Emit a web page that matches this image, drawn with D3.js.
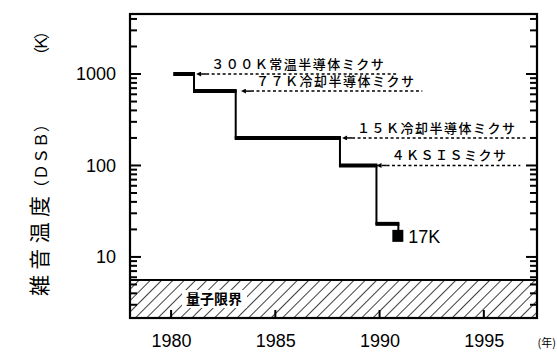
<!DOCTYPE html>
<html lang="ja">
  <head>
    <meta charset="utf-8">
    <title>雑音温度の推移</title>
    <style>
      body { margin: 0; background: #fff; }
      svg text { fill: #000; }
      .num { font-family: "Liberation Sans", Arial, sans-serif; }
      .jp { font-family: "Noto Sans CJK JP", sans-serif; }
    </style>
  </head>
  <body>
    <svg id="chart" width="557" height="352"></svg>
  </body>
  <script src="https://cdn.jsdelivr.net/npm/d3@7/dist/d3.min.js"></script>
  <script type="text/javascript">

    // best receiver noise temperature (DSB), stepped record
    var stepYears = [1980.15, 1981.1, 1983.1, 1988.1, 1989.85, 1990.9];
    var stepTemps = [1000, 650, 200, 100, 23, 17];

    // mixer types : name, temperature, arrow tip year, line end year
    var mixerNames = ['３００Ｋ常温半導体ミクサ', '７７Ｋ冷却半導体ミクサ', '１５Ｋ冷却半導体ミクサ', '４ＫＳＩＳミクサ'];
    var mixerTemps = [1000, 650, 200, 100];
    var mixerStart = [1981.25, 1983.4, 1988.25, 1989.9];
    var mixerEnd = [1990.85, 1992.05, 1997.1, 1996.75];

    var quantumLimit = 5.6;
    var yMajor = [10, 100, 1000];
    var yMinor = [3, 4, 5, 6, 7, 8, 9, 20, 30, 40, 50, 60, 70, 80, 90,
                  200, 300, 400, 500, 600, 700, 800, 900, 2000, 3000, 4000];
    var xTicks = [1980, 1985, 1990, 1995];

    var svg = d3.select('#chart');
    // note: "top" is taken by window.top, so plot edges get a prefix
    var pLeft = 130, pRight = 537, pTop = 14, pBottom = 318;

    var x = d3.scaleLinear().domain([1978.03, 1997.55]).range([pLeft, pRight]);
    var y = d3.scaleLog().domain([2.15, 4530]).range([pBottom, pTop]);

    // hatch pattern for the quantum limit band
    var defs = svg.append('defs');
    defs.append('pattern')
      .attr('id', 'hatch')
      .attr('patternUnits', 'userSpaceOnUse')
      .attr('width', 8).attr('height', 8)
      .attr('patternTransform', 'rotate(45)')
      .append('line')
      .attr('x1', 0).attr('y1', 0).attr('x2', 0).attr('y2', 8)
      .attr('stroke', '#000').attr('stroke-width', 1.5);

    svg.append('rect')
      .attr('x', pLeft).attr('y', y(quantumLimit))
      .attr('width', pRight - pLeft).attr('height', pBottom - y(quantumLimit))
      .attr('fill', 'url(#hatch)');
    svg.append('line')
      .attr('x1', pLeft).attr('x2', pRight)
      .attr('y1', y(quantumLimit)).attr('y2', y(quantumLimit))
      .attr('stroke', '#000').attr('stroke-width', 2);
    svg.append('rect')
      .attr('x', 182).attr('y', 290).attr('width', 65).attr('height', 18)
      .attr('fill', '#fff');
    svg.append('text').attr('class', 'jp')
      .attr('x', 214).attr('y', 304)
      .attr('text-anchor', 'middle')
      .style('font-size', '14px').style('font-weight', 'bold')
      .text('量子限界');

    // tick labels from the axes, tick marks drawn by hand (inward)
    svg.append('g').attr('transform', 'translate(' + pLeft + ',0)')
      .call(d3.axisLeft(y).tickValues(yMajor).tickSize(0).tickPadding(14).tickFormat(d3.format('d')))
      .call(function(g) { g.select('.domain').remove(); })
      .selectAll('text').attr('class', 'num').style('font-size', '18px');
    svg.append('g').attr('transform', 'translate(0,' + pBottom + ')')
      .call(d3.axisBottom(x).tickValues(xTicks).tickSize(0).tickPadding(16).tickFormat(d3.format('d')))
      .call(function(g) { g.select('.domain').remove(); })
      .selectAll('text').attr('class', 'num').style('font-size', '18px');

    var yt = yMajor.map(function(v) { return [v, 11]; })
      .concat(yMinor.map(function(v) { return [v, 7]; }));
    var tg = svg.append('g').attr('stroke', '#000').attr('stroke-width', 2);
    tg.selectAll('.yl').data(yt).enter().append('line')
      .attr('x1', pLeft).attr('x2', function(d) { return pLeft + d[1]; })
      .attr('y1', function(d) { return y(d[0]); })
      .attr('y2', function(d) { return y(d[0]); });
    tg.selectAll('.yr').data(yt).enter().append('line')
      .attr('x1', pRight).attr('x2', function(d) { return pRight - d[1]; })
      .attr('y1', function(d) { return y(d[0]); })
      .attr('y2', function(d) { return y(d[0]); });
    tg.selectAll('.xb').data(xTicks).enter().append('line')
      .attr('x1', function(d) { return x(d); })
      .attr('x2', function(d) { return x(d); })
      .attr('y1', pBottom).attr('y2', pBottom - 8);

    // frame
    svg.append('rect')
      .attr('x', pLeft).attr('y', pTop)
      .attr('width', pRight - pLeft).attr('height', pBottom - pTop)
      .attr('fill', 'none').attr('stroke', '#000').attr('stroke-width', 2.2);

    // mixer reference lines with arrows
    defs.append('marker')
      .attr('id', 'arrow')
      .attr('viewBox', '0 0 10 10')
      .attr('refX', 0).attr('refY', 5)
      .attr('markerWidth', 7).attr('markerHeight', 5)
      .attr('markerUnits', 'userSpaceOnUse')
      .attr('orient', 'auto')
      .append('path').attr('d', 'M0,0 L10,5 L0,10 Z').attr('fill', '#000');

    var mixers = d3.range(mixerNames.length);
    var mg = svg.append('g');
    mg.selectAll('.tip').data(mixers).enter().append('line')
      .attr('x1', function(i) { return x(mixerStart[i]) + 9; })
      .attr('x2', function(i) { return x(mixerStart[i]) + 4; })
      .attr('y1', function(i) { return y(mixerTemps[i]); })
      .attr('y2', function(i) { return y(mixerTemps[i]); })
      .attr('stroke', '#000').attr('stroke-width', 1.5)
      .attr('marker-end', 'url(#arrow)');
    mg.selectAll('.dash').data(mixers).enter().append('line')
      .attr('x1', function(i) { return x(mixerStart[i]) + 9; })
      .attr('x2', function(i) { return x(mixerEnd[i]); })
      .attr('y1', function(i) { return y(mixerTemps[i]); })
      .attr('y2', function(i) { return y(mixerTemps[i]); })
      .attr('stroke', '#000').attr('stroke-width', 1.5)
      .attr('stroke-dasharray', '3,2.5');
    mg.selectAll('text').data(mixers).enter().append('text')
      .attr('class', 'jp')
      .attr('x', function(i) { return x(mixerStart[i]) + 14; })
      .attr('y', function(i) { return y(mixerTemps[i]) - 5; })
      .style('font-size', '13px')
      .style('font-weight', '500')
      .style('letter-spacing', '1.5px')
      .text(function(i) { return mixerNames[i]; });

    // stepped record: thin risers, heavy treads
    var pts = stepYears.map(function(d, i) { return [d, stepTemps[i]]; });
    var line = d3.line()
      .x(function(d) { return x(d[0]); })
      .y(function(d) { return y(d[1]); })
      .curve(d3.curveStepAfter);
    svg.append('path')
      .attr('d', line(pts))
      .attr('fill', 'none').attr('stroke', '#000').attr('stroke-width', 2);
    svg.selectAll('.tread').data(pts.slice(0, -1)).enter().append('line')
      .attr('x1', function(d) { return x(d[0]) - 1; })
      .attr('x2', function(d, i) { return x(pts[i + 1][0]) + 1; })
      .attr('y1', function(d) { return y(d[1]); })
      .attr('y2', function(d) { return y(d[1]); })
      .attr('stroke', '#000').attr('stroke-width', 4);

    var last = pts[pts.length - 1];
    svg.append('rect')
      .attr('x', x(last[0]) - 6).attr('y', y(last[1]) - 6)
      .attr('width', 11).attr('height', 12)
      .attr('fill', '#000');
    svg.append('text').attr('class', 'num')
      .attr('x', x(last[0]) + 10).attr('y', y(last[1]) + 7)
      .style('font-size', '18px')
      .text(last[1] + 'K');

    // y axis title, rotated
    var yTitle = [['雑音温度', 246, 100, 21], ['（ＤＳＢ）', 156, 80, 16], ['（Ｋ）', 43, 40, 16]];
    svg.selectAll('.ytitle').data(yTitle).enter().append('text')
      .attr('class', 'jp')
      .attr('transform', function(d) { return 'translate(47,' + d[1] + ') rotate(-90)'; })
      .attr('text-anchor', 'middle')
      .attr('textLength', function(d) { return d[2]; })
      .attr('lengthAdjust', 'spacing')
      .style('font-size', function(d) { return d[3] + 'px'; })
      .text(function(d) { return d[0]; });

    svg.append('text').attr('class', 'jp')
      .attr('x', 556).attr('y', 347)
      .attr('text-anchor', 'end')
      .style('font-size', '11px')
      .text('(年)');
  </script>
</html>
